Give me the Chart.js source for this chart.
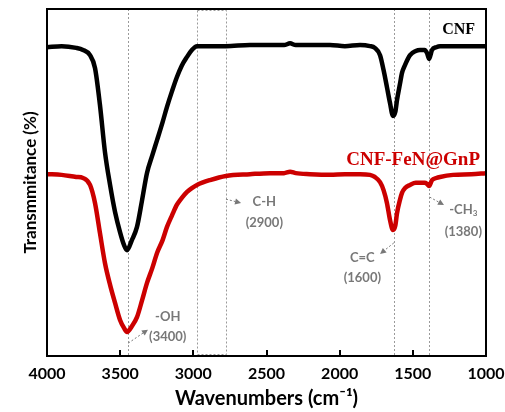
<!DOCTYPE html>
<html>
<head>
<meta charset="utf-8">
<script src="https://cdn.jsdelivr.net/npm/chart.js@4.4.1/dist/chart.umd.min.js"></script>
<style>
  html, body { margin: 0; padding: 0; background: #fff; }
  #wrap { width: 505px; height: 412px; position: relative; }
</style>
</head>
<body>
<div id="wrap"><canvas id="ftirChart"></canvas></div>
<script>
// FTIR spectra (transmittance in arbitrary %, 0 = bottom of frame)
const wavenumbers = [
  4000, 3900, 3800, 3754, 3706, 3672, 3638, 3604, 3569, 3535, 3501, 3474, 3453,
  3420, 3385, 3350, 3317, 3280, 3248, 3210, 3180, 3145, 3112, 3080, 3043, 3010, 2975,
  2886, 2777, 2613, 2476, 2380, 2339, 2300, 2203, 2066, 1964, 1861, 1793, 1760, 1724,
  1700, 1677, 1656, 1636, 1620, 1608, 1588, 1574, 1553, 1519, 1480, 1451, 1420, 1403,
  1389, 1369, 1340, 1314, 1225, 1100, 1000
];
const cnfValues = [
  89.0, 89.3, 88.8, 88.2, 86.7, 83.0, 72.3, 58.8, 49.3, 41.5, 35.7, 32.0, 30.5,
  33.4, 37.2, 45.0, 52.7, 57.9, 62.2, 67.4, 71.8, 76.4, 80.4, 83.6, 86.2, 88.2, 89.3,
  89.3, 89.3, 89.6, 89.6, 89.6, 90.1, 89.6, 89.6, 89.6, 89.3, 89.6, 89.3, 88.8, 86.7,
  82.4, 77.5, 72.9, 69.2, 70.3, 73.8, 78.4, 81.6, 83.9, 86.7, 87.9, 88.2, 88.2, 87.3,
  85.6, 88.2, 89.0, 89.3, 89.3, 89.3, 89.3
];
const gnpValues = [
  52.4, 52.2, 51.6, 51.3, 49.3, 44.1, 35.4, 26.8, 20.5, 15.3, 10.4, 8.1, 6.9,
  8.6, 11.2, 16.1, 21.0, 25.4, 29.7, 33.4, 37.2, 40.6, 43.6, 45.5, 47.3, 48.4, 49.3,
  50.7, 51.9, 52.4, 52.7, 52.7, 53.1, 52.7, 52.4, 52.2, 52.4, 52.4, 52.2, 51.6, 50.1,
  47.8, 44.1, 39.2, 36.3, 37.5, 41.2, 45.0, 47.0, 48.4, 49.3, 49.9, 49.9, 49.9, 49.6,
  49.0, 50.7, 51.3, 51.6, 52.2, 52.4, 52.7
];
const xTicks = [4000, 3500, 3000, 2500, 2000, 1500, 1000];

// dotted guide lines and the C-H band box (wavenumbers)
const guideLines = [3445, 1628, 1389];
const chBand = [2975, 2777];

// peak call-outs: text at (wn, t), arrow from -> to, in data units
const peakNotes = [
  { lines: ['-OH', '(3400)'], wn: 3175, t: [11.2, 5.5], from: [3445, 3.7], to: [3310, 7.6] },
  { lines: ['C-H', '(2900)'], wn: 2515, t: [44.4, 38.3], from: [2777, 45.2], to: [2674, 44.1] },
  { lines: ['C=C', '(1600)'], wn: 1845, t: [28.2, 22.5], from: [1630, 32.6], to: [1724, 29.4] },
  { lines: ['-CH|3', '(1380)'], wn: 1155, t: [42.1, 35.7], from: [1385, 45.8], to: [1287, 43.5] }
];
const seriesLabels = [
  { text: 'CNF', wn: 1075, t: 93.9, color: '#000000', size: 16 },
  { text: 'CNF-FeN@GnP', wn: 1041, t: 56.5, color: '#cc0000', size: 19 }
];

const SANS = 'Lato, "Open Sans", sans-serif';
const GREY = '#787878';

function drawArrow(ctx, x1, y1, x2, y2) {
  ctx.save();
  ctx.strokeStyle = GREY;
  ctx.fillStyle = GREY;
  ctx.lineWidth = 1;
  ctx.setLineDash([2, 2]);
  const ang = Math.atan2(y2 - y1, x2 - x1);
  const hl = 6;
  ctx.beginPath();
  ctx.moveTo(x1, y1);
  ctx.lineTo(x2 - Math.cos(ang) * hl, y2 - Math.sin(ang) * hl);
  ctx.stroke();
  ctx.setLineDash([]);
  ctx.beginPath();
  ctx.moveTo(x2, y2);
  ctx.lineTo(x2 - hl * Math.cos(ang) + 3 * Math.sin(ang), y2 - hl * Math.sin(ang) - 3 * Math.cos(ang));
  ctx.lineTo(x2 - hl * Math.cos(ang) - 3 * Math.sin(ang), y2 - hl * Math.sin(ang) + 3 * Math.cos(ang));
  ctx.closePath();
  ctx.fill();
  ctx.restore();
}

const decorPlugin = {
  id: 'decor',
  beforeDatasetsDraw(chart) {
    const { ctx, chartArea: a, scales: { x } } = chart;
    ctx.save();
    ctx.strokeStyle = '#9a9a9a';
    ctx.lineWidth = 1;
    ctx.setLineDash([2, 2]);
    guideLines.forEach(wn => {
      const px = Math.round(x.getPixelForValue(wn)) + 0.5;
      ctx.beginPath();
      ctx.moveTo(px, a.top);
      ctx.lineTo(px, a.bottom);
      ctx.stroke();
    });
    const bx1 = Math.round(x.getPixelForValue(chBand[0])) + 0.5;
    const bx2 = Math.round(x.getPixelForValue(chBand[1])) + 0.5;
    ctx.strokeRect(bx1, a.top + 1.5, bx2 - bx1, a.bottom - a.top - 3);
    ctx.restore();
  },
  afterDraw(chart) {
    const { ctx, chartArea: a, scales: { x, y } } = chart;
    ctx.save();
    // frame
    ctx.strokeStyle = '#000';
    ctx.lineWidth = 2;
    ctx.strokeRect(a.left, a.top, a.right - a.left, a.bottom - a.top);
    // inward tick marks
    xTicks.slice(1, -1).forEach(v => {
      const px = Math.round(x.getPixelForValue(v));
      ctx.beginPath();
      ctx.moveTo(px, a.bottom);
      ctx.lineTo(px, a.bottom - 6);
      ctx.stroke();
    });
    // call-outs
    ctx.fillStyle = GREY;
    ctx.textAlign = 'center';
    ctx.textBaseline = 'middle';
    peakNotes.forEach(n => {
      const cx = x.getPixelForValue(n.wn);
      n.lines.forEach((txt, i) => {
        const cy = y.getPixelForValue(n.t[i]);
        if (txt.includes('|')) {
          const [main, sub] = txt.split('|');
          ctx.font = 'bold 13px ' + SANS;
          const w1 = ctx.measureText(main).width;
          ctx.font = 'bold 8px ' + SANS;
          const w2 = ctx.measureText(sub).width;
          const left = cx - (w1 + w2) / 2;
          ctx.textAlign = 'left';
          ctx.font = 'bold 13px ' + SANS;
          ctx.fillText(main, left, cy);
          ctx.font = 'bold 8px ' + SANS;
          ctx.fillText(sub, left + w1, cy + 4);
          ctx.textAlign = 'center';
        } else {
          ctx.font = 'bold 13px ' + SANS;
          ctx.fillText(txt, cx, cy);
        }
      });
      drawArrow(ctx, x.getPixelForValue(n.from[0]), y.getPixelForValue(n.from[1]),
        x.getPixelForValue(n.to[0]), y.getPixelForValue(n.to[1]));
    });
    // series names
    ctx.textAlign = 'right';
    seriesLabels.forEach(s => {
      ctx.fillStyle = s.color;
      ctx.font = 'bold ' + s.size + 'px "Liberation Serif", "Times New Roman", serif';
      ctx.fillText(s.text, x.getPixelForValue(s.wn), y.getPixelForValue(s.t));
    });
    ctx.restore();
  }
};

function toPoints(values) {
  return wavenumbers.map((wn, i) => ({ x: wn, y: values[i] }));
}

new Chart(document.getElementById('ftirChart'), {
  type: 'line',
  data: {
    datasets: [
      {
        label: 'CNF',
        data: toPoints(cnfValues),
        borderColor: '#000000',
        borderWidth: 4.5,
        pointRadius: 0,
        cubicInterpolationMode: 'monotone',
      },
      {
        label: 'CNF-FeN@GnP',
        data: toPoints(gnpValues),
        borderColor: '#cc0000',
        borderWidth: 4.5,
        pointRadius: 0,
        cubicInterpolationMode: 'monotone',
      },
    ],
  },
  options: {
    responsive: true,
    maintainAspectRatio: false,
    animation: false,
    layout: { padding: { top: 9, right: 19, bottom: 0, left: 0 } },
    scales: {
      x: {
        type: 'linear',
        reverse: true,
        min: 1000,
        max: 4000,
        afterBuildTicks: scale => { scale.ticks = xTicks.map(v => ({ value: v })); },
        afterFit: scale => {
          scale.height = 56;
          scale.paddingLeft = 0;
          scale.paddingRight = 0;
        },
        grid: { display: false, drawTicks: false },
        border: { display: false },
        ticks: {
          color: '#000',
          padding: 8,
          maxRotation: 0,
          autoSkip: false,
          callback: v => String(v),
          font: { family: SANS, size: 16, weight: 'bold' },
        },
        title: {
          display: true,
          text: 'Wavenumbers (cm⁻¹)',
          color: '#000',
          padding: { top: 0, bottom: 1 },
          font: { family: SANS, size: 20, weight: 'bold' },
        },
      },
      y: {
        min: 0,
        max: 100,
        afterFit: scale => { scale.width = 47; },
        grid: { display: false, drawTicks: false },
        border: { display: false },
        ticks: { display: false },
        title: {
          display: true,
          text: 'Transmmitance (%)',
          color: '#000',
          padding: { top: 20, bottom: 0 },
          font: { family: SANS, size: 17, weight: 'bold' },
        },
      },
    },
    plugins: {
      legend: { display: false },
      tooltip: { enabled: false },
    },
  },
  plugins: [decorPlugin],
});
</script>
</body>
</html>
